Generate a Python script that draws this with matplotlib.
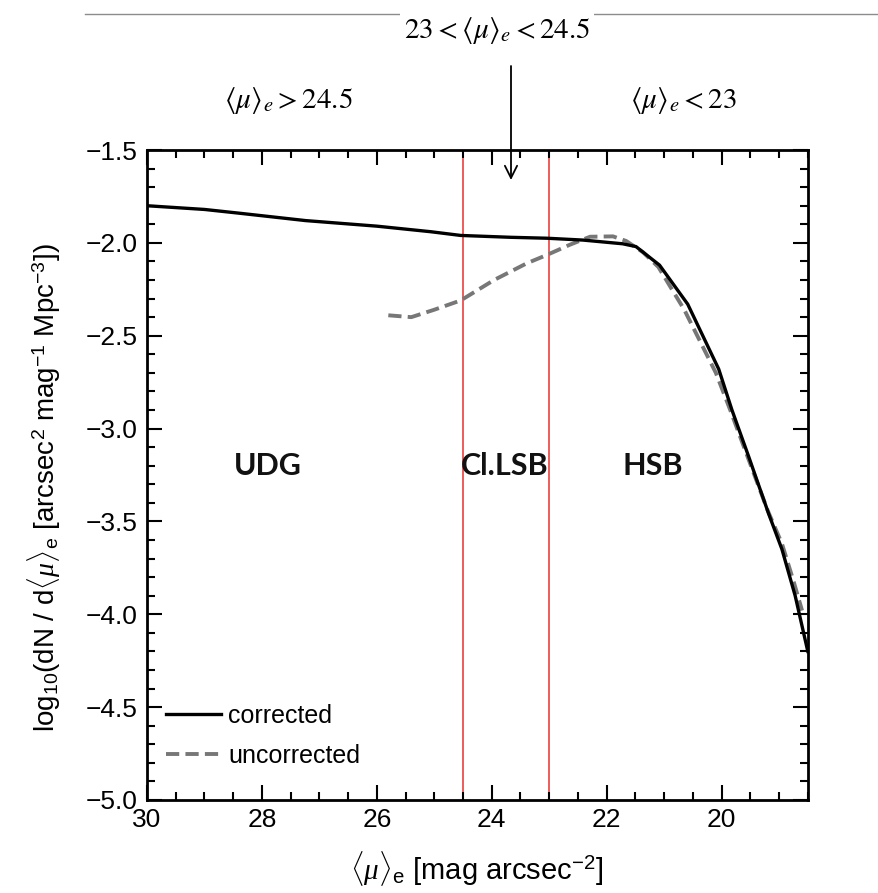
import matplotlib
matplotlib.use('Agg')
import matplotlib.pyplot as plt
from matplotlib.lines import Line2D
from matplotlib.patches import FancyArrowPatch
from matplotlib.ticker import MultipleLocator

# corrected luminosity-like function (solid black)
mu_corr = [30.0, 29.0, 28.4, 27.24, 26.0, 25.06, 24.54, 23.67, 23.04, 22.41,
           21.72, 21.49, 21.08, 20.59, 20.05, 19.82, 19.53, 19.18, 18.95, 18.72, 18.5]
phi_corr = [-1.80, -1.82, -1.84, -1.88, -1.91, -1.94, -1.96, -1.97, -1.975, -1.985,
            -2.005, -2.02, -2.12, -2.33, -2.68, -2.90, -3.15, -3.46, -3.65, -3.90, -4.20]

# uncorrected (dashed grey)
mu_unc = [25.8, 25.4, 25.0, 24.54, 23.96, 23.39, 23.04, 22.64, 22.29, 21.89,
          21.66, 21.37, 21.1, 20.65, 20.1, 19.85, 19.55, 19.2, 18.95, 18.75, 18.6]
phi_unc = [-2.39, -2.40, -2.36, -2.31, -2.20, -2.11, -2.065, -2.01, -1.967, -1.965,
           -1.99, -2.05, -2.13, -2.36, -2.70, -2.90, -3.15, -3.44, -3.62, -3.82, -3.98]

cuts = [24.5, 23.0]
regions = ['UDG', 'Cl.LSB', 'HSB']
region_x = [27.9, 23.77, 21.2]

xticks = [30, 28, 26, 24, 22, 20]
yticks = [-5.0, -4.5, -4.0, -3.5, -3.0, -2.5, -2.0, -1.5]

plt.rcParams['font.family'] = ['Liberation Sans', 'DejaVu Sans']
plt.rcParams['mathtext.fontset'] = 'custom'
plt.rcParams['mathtext.rm'] = 'Liberation Sans'
plt.rcParams['mathtext.it'] = 'Liberation Serif:italic'

fig = plt.figure(figsize=(8.79, 8.93), dpi=100)
ax = fig.add_axes([0.1672, 0.1042, 0.7518, 0.7278])

ax.plot(mu_corr, phi_corr, color='black', lw=2.4, label='corrected', zorder=3)
ax.plot(mu_unc, phi_unc, color='#777777', lw=2.8, ls=(0, (3.4, 1.6)),
        label='uncorrected', zorder=2)
for c in cuts:
    ax.axvline(c, color='#e8302c', lw=1.1, zorder=1)

for name, xc in zip(regions, region_x):
    ax.text(xc, -3.2, name, ha='center', va='center', fontsize=22,
            fontweight='bold', family='Lato', color='#111111')

ax.set_xlim(30, 18.5)
ax.set_ylim(-5.0, -1.5)
ax.xaxis.set_minor_locator(MultipleLocator(0.5))
ax.yaxis.set_minor_locator(MultipleLocator(0.1))
ax.set_xticks(xticks)
ax.set_xticklabels([str(t) for t in xticks])
ax.set_yticks(yticks)
ax.set_yticklabels([('%.1f' % t).replace('-', '\u2212') for t in yticks])
ax.tick_params(which='both', direction='in', top=True, right=True,
               labelsize=19, width=1.5)
ax.tick_params(axis='x', which='major', pad=6)
ax.tick_params(axis='y', which='major', pad=7)
ax.tick_params(which='major', length=11)
ax.tick_params(which='minor', length=5.5)
for s in ax.spines.values():
    s.set_linewidth(2)

ax.set_xlabel(r'$\langle\mu\rangle_{\rm e}$ [mag arcsec$^{-2}$]', fontsize=21)
ax.xaxis.set_label_coords(0.499, -0.106)
ax.xaxis.label.set_va('center')
ax.set_ylabel(r'log$_{10}$(dN / d$\langle\mu\rangle_{\rm e}$ [arcsec$^{2}$ mag$^{-1}$ Mpc$^{-3}$])',
              fontsize=20)
ax.yaxis.set_label_coords(-0.155, 0.48)
ax.yaxis.label.set_va('center')

ax.legend(loc='lower left', frameon=False, fontsize=18, handlelength=2.2,
          handletextpad=0.3, borderaxespad=0.35, labelspacing=0.65,
          bbox_to_anchor=(0, 0.02))

# header annotations
fig.add_artist(Line2D([85 / 879, 1.0], [1 - 14 / 893] * 2, color='#8c8c8c', lw=1.0))
fig.text(497 / 879, 1 - 30 / 893, r'$23 < \langle\mu\rangle_e < 24.5$', ha='center',
         va='center', fontsize=21, math_fontfamily='stix',
         bbox=dict(facecolor='white', edgecolor='none', pad=3))
fig.text(288 / 879, 1 - 100 / 893, r'$\langle\mu\rangle_e > 24.5$', ha='center',
         va='center', fontsize=21, math_fontfamily='stix')
fig.text(683 / 879, 1 - 100 / 893, r'$\langle\mu\rangle_e < 23$', ha='center',
         va='center', fontsize=21, math_fontfamily='stix')
fig.add_artist(FancyArrowPatch(
    (511 / 879, 1 - 66 / 893), (511 / 879, 1 - 180 / 893),
    transform=fig.transFigure, arrowstyle='->', color='black', lw=1.3,
    mutation_scale=22, shrinkA=0, shrinkB=0))

plt.savefig('out.png', dpi=100)
